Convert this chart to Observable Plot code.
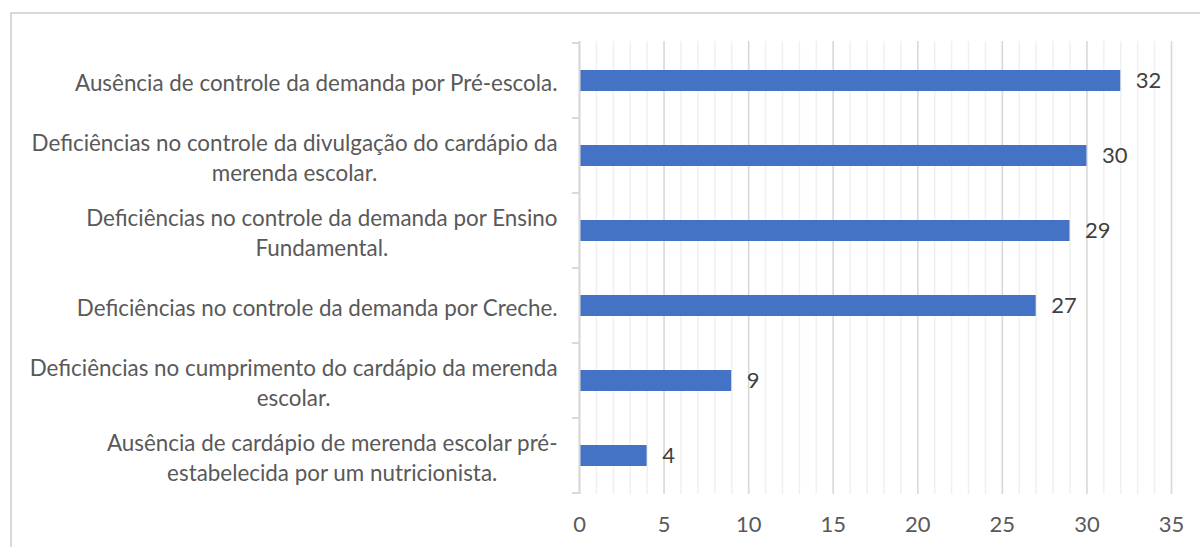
<!DOCTYPE html>
<html>
<head>
<meta charset="utf-8">
<script src="https://cdn.jsdelivr.net/npm/d3@7"></script>
<script src="https://cdn.jsdelivr.net/npm/@observablehq/plot@0.6"></script>
<style>
  html, body { margin: 0; padding: 0; background: #fff; overflow: hidden; }
  #wrap { position: relative; width: 1200px; height: 547px; }
  #frame { position: absolute; left: 10px; top: 12px; right: -5px; bottom: -5px;
           border-left: 2px solid #d9d9d9; border-top: 2px solid #d9d9d9; }
  #chart { position: absolute; left: 0; top: 0; }
</style>
</head>
<body>
<div id="wrap"><div id="frame"></div><div id="chart"></div></div>
<script>
const categories = [
  "Ausência de controle da demanda por Pré-escola.",
  "Deficiências no controle da divulgação do cardápio da\nmerenda escolar.",
  "Deficiências no controle da demanda por Ensino\nFundamental.",
  "Deficiências no controle da demanda por Creche.",
  "Deficiências no cumprimento do cardápio da merenda\nescolar.",
  "Ausência de cardápio de merenda escolar pré-\nestabelecida por um nutricionista."
];
const values = [32, 30, 29, 27, 9, 4];
const majorTicks = [0, 5, 10, 15, 20, 25, 30, 35];
const minorTicks = d3.range(0, 36);

const data = categories.map((c, i) => ({category: c, value: values[i]}));

const plot = Plot.plot({
  width: 1200,
  height: 547,
  marginLeft: 579,
  marginRight: 29,
  marginTop: 41,
  marginBottom: 53,
  style: {fontFamily: "Lato", fontSize: "22px", color: "#595959", background: "transparent"},
  x: {domain: [0, 35]},
  y: {domain: categories, paddingInner: 0.72, paddingOuter: 0.36},
  marks: [
    Plot.ruleX(minorTicks, {stroke: "#f0f0f0", strokeWidth: 1.5}),
    Plot.ruleX(majorTicks, {stroke: "#d9d9d9", strokeWidth: 1.5}),
    Plot.barX(data, {x: "value", y: "category", fill: "#4472c4"}),
    Plot.text(data, {x: "value", y: "category", text: d => String(d.value), textAnchor: "start", dx: 15, fill: "#404040", fontSize: 22}),
    Plot.ruleX([0], {stroke: "#d9d9d9", strokeWidth: 2}),
    Plot.axisX({ticks: majorTicks, tickSize: 0, tickPadding: 22, fill: "#595959", fontSize: 22, label: null}),
    Plot.axisY({tickSize: 0, tickPadding: 22, lineWidth: Infinity, lineHeight: 1.35, fill: "#595959", fontSize: 22.4, label: null})
  ]
});

document.getElementById("chart").appendChild(plot);

// centre multi-line category labels within their right-aligned block
d3.select(plot).selectAll("g[aria-label='y-axis tick label'] text").each(function() {
  const w = this.getBBox().width;
  const t = d3.select(this);
  t.attr("text-anchor", "middle");
  const tr = t.attr("transform") || "";
  t.attr("transform", tr + ` translate(${-w / 2},0)`);
});

// tick marks at category band boundaries on the left axis
const ys = plot.scale("y");
const xs = plot.scale("x");
const x0 = xs.apply(0);
const bounds = [];
categories.forEach((c, i) => {
  const mid = ys.apply(c) + ys.bandwidth / 2;
  if (i === 0) bounds.push(mid - ys.step / 2);
  bounds.push(mid + ys.step / 2);
});
const g = d3.select(plot).append("g").attr("stroke", "#d9d9d9").attr("stroke-width", 2);
bounds.forEach(b => {
  g.append("line").attr("x1", x0 - 7).attr("x2", x0).attr("y1", b).attr("y2", b);
});
</script>
</body>
</html>
